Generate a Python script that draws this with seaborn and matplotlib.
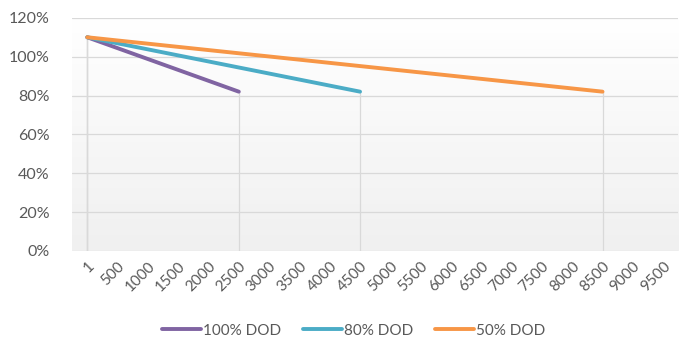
import matplotlib
matplotlib.use("Agg")
import matplotlib.pyplot as plt
import numpy as np
import pandas as pd
import seaborn as sns

# Cycle-count categories shown on the x axis
cycles = [1, 500, 1000, 1500, 2000, 2500, 3000, 3500, 4000, 4500,
          5000, 5500, 6000, 6500, 7000, 7500, 8000, 8500, 9000, 9500]

# Each series: start and end cycle with capacity (fraction)
series_names = ["100% DOD", "80% DOD", "50% DOD"]
series_cycles = [[1, 2500], [1, 4500], [1, 8500]]
series_values = [[1.10, 0.82], [1.10, 0.82], [1.10, 0.82]]
colors = ["#8064A2", "#4BACC6", "#F79646"]

rows = []
for name, cs, vs in zip(series_names, series_cycles, series_values):
    for c, v in zip(cs, vs):
        rows.append({"series": name, "pos": cycles.index(c), "capacity": v})
df = pd.DataFrame(rows)

sns.set_style("white")
plt.rcParams["font.family"] = ["Lato", "DejaVu Sans"]
text_color = "#595959"
grid_color = "#D9D9D9"

fig = plt.figure(figsize=(7, 3.5), dpi=100)
ax = fig.add_axes([0.103, 0.283, 0.866, 0.666])

# subtle white-to-gray background gradient
grad = np.linspace(1, 0, 256).reshape(-1, 1)
ax.imshow(grad, extent=[0, 1, 0, 1], transform=ax.transAxes, aspect="auto",
          cmap=matplotlib.colors.LinearSegmentedColormap.from_list(
              "bg", ["#F0F0F0", "#FFFFFF"]), zorder=0)

# horizontal gridlines
for y in np.arange(0, 1.21, 0.2):
    ax.axhline(y, color=grid_color, lw=0.9, zorder=1)

# drop lines from each point down to the axis
ax.vlines(df["pos"], 0, df["capacity"], color=grid_color, lw=0.9, zorder=1)

sns.lineplot(data=df, x="pos", y="capacity", hue="series",
             hue_order=series_names, palette=colors, lw=2.8,
             ax=ax, zorder=3, legend=True, solid_capstyle="round")

ax.set_xlim(-0.5, len(cycles) - 0.5)
ax.set_ylim(0, 1.2)
ax.set_xticks(range(len(cycles)))
ax.set_xticklabels([str(c) for c in cycles], rotation=45, ha="right",
                   rotation_mode="anchor", color=text_color, fontsize=11)
ax.set_yticks(np.arange(0, 1.21, 0.2))
ax.set_yticklabels([f"{int(round(v * 100))}%" for v in np.arange(0, 1.21, 0.2)],
                   color=text_color, fontsize=11.5)
ax.tick_params(axis="both", length=0)
ax.tick_params(axis="x", pad=6)
ax.tick_params(axis="y", pad=16)
ax.set_xlabel("")
ax.set_ylabel("")
for s in ax.spines.values():
    s.set_visible(False)

handles, labels = ax.get_legend_handles_labels()
ax.legend(handles, labels, loc="center", bbox_to_anchor=(0.505, 0.055),
          bbox_transform=fig.transFigure, ncol=3, frameon=False,
          fontsize=11, labelcolor=text_color, handlelength=2.55,
          handletextpad=0.15, columnspacing=1.4)

fig.savefig("out.png", dpi=100)
